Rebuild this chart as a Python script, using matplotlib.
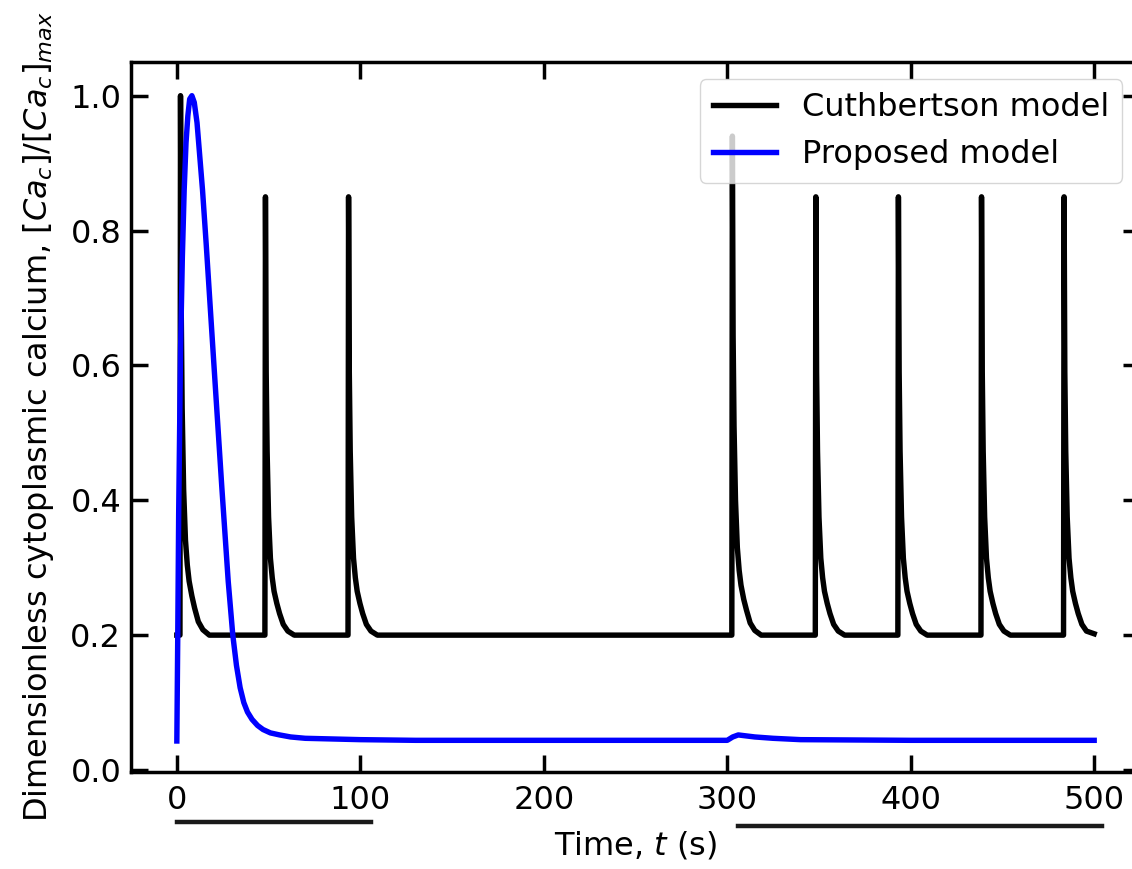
import matplotlib
matplotlib.use("Agg")
import matplotlib.pyplot as plt

# Cuthbertson model: baseline 0.2 with sharp spikes (times in s)
cuth_t = [0, 1.7, 2.0, 2.4, 2.9, 3.7, 4.7, 5.7, 6.7, 8.2, 9.7, 11.7, 14.2, 17.7,
          48.0, 48.3, 48.7, 49.2, 50.0, 51.0, 52.0, 53.0, 54.5, 56.0, 58.0, 60.5, 64.0,
          93.3, 93.6, 94.0, 94.5, 95.3, 96.3, 97.3, 98.3, 99.8, 101.3, 103.3, 105.8, 109.3,
          302.5, 302.8, 303.2, 303.7, 304.5, 305.5, 306.5, 307.5, 309.0, 310.5, 312.5, 315.0, 318.5,
          348.0, 348.3, 348.7, 349.2, 350.0, 351.0, 352.0, 353.0, 354.5, 356.0, 358.0, 360.5, 364.0,
          393.0, 393.3, 393.7, 394.2, 395.0, 396.0, 397.0, 398.0, 399.5, 401.0, 403.0, 405.5, 409.0,
          438.3, 438.6, 439.0, 439.5, 440.3, 441.3, 442.3, 443.3, 444.8, 446.3, 448.3, 450.8, 454.3,
          483.3, 483.6, 484.0, 484.5, 485.3, 486.3, 487.3, 488.3, 489.8, 491.3, 493.3, 495.8, 500]
cuth_y = [0.2, 0.2, 1.0, 0.68, 0.536, 0.416, 0.341, 0.304, 0.28, 0.258, 0.24, 0.22, 0.208, 0.2,
          0.2, 0.85, 0.59, 0.473, 0.375, 0.314, 0.285, 0.265, 0.247, 0.232, 0.216, 0.206, 0.2,
          0.2, 0.85, 0.59, 0.473, 0.375, 0.314, 0.285, 0.265, 0.247, 0.232, 0.216, 0.206, 0.2,
          0.2, 0.94, 0.644, 0.51, 0.40, 0.33, 0.296, 0.274, 0.253, 0.237, 0.218, 0.207, 0.2,
          0.2, 0.85, 0.59, 0.473, 0.375, 0.314, 0.285, 0.265, 0.247, 0.232, 0.216, 0.206, 0.2,
          0.2, 0.85, 0.59, 0.473, 0.375, 0.314, 0.285, 0.265, 0.247, 0.232, 0.216, 0.206, 0.2,
          0.2, 0.85, 0.59, 0.473, 0.375, 0.314, 0.285, 0.265, 0.247, 0.232, 0.216, 0.206, 0.2,
          0.2, 0.85, 0.59, 0.473, 0.375, 0.314, 0.285, 0.265, 0.247, 0.232, 0.216, 0.206, 0.202]

# Proposed model
prop_t = [0, 0.5, 1, 1.5, 2, 3, 4, 5, 6, 7, 8.2, 9.5, 11, 12.5, 14, 16, 20, 24.5,
          28, 30.5, 32.5, 34.5, 36.5, 38.5, 41, 44, 47, 51, 56, 62, 70, 85, 100,
          130, 200, 300, 303, 306, 309, 315, 325, 340, 400, 500]
prop_y = [0.043, 0.2, 0.38, 0.5, 0.62, 0.76, 0.86, 0.93, 0.97, 0.995, 1.0, 0.99,
          0.96, 0.91, 0.86, 0.78, 0.61, 0.42, 0.28, 0.2, 0.155, 0.122, 0.1, 0.086,
          0.075, 0.066, 0.06, 0.055, 0.052, 0.049, 0.047, 0.046, 0.045, 0.044,
          0.044, 0.044, 0.049, 0.052, 0.051, 0.049, 0.047, 0.045, 0.044, 0.044]

# underline bars drawn below the x axis (data units)
bar1_x = [0, 106]
bar1_y = [-0.077, -0.077]
bar2_x = [306, 504]
bar2_y = [-0.083, -0.083]

fs = 23
fig = plt.figure(figsize=(11.32, 8.69), dpi=100)
ax = fig.add_axes([0.1157, 0.1116, 0.8914, 0.8171])

ax.plot(cuth_t, cuth_y, color="black", lw=3.9, label="Cuthbertson model")
ax.plot(prop_t, prop_y, color="blue", lw=3.9, label="Proposed model")

ax.plot(bar1_x, bar1_y, color="#1a1a1a", lw=3.2, clip_on=False)
ax.plot(bar2_x, bar2_y, color="#1a1a1a", lw=3.2, clip_on=False)

ax.set_xlim(-25, 525)
ax.set_ylim(-0.003, 1.05)
ax.set_xticks([0, 100, 200, 300, 400, 500])
ax.set_yticks([0.0, 0.2, 0.4, 0.6, 0.8, 1.0])

ax.tick_params(direction="in", top=True, right=True, length=12, width=2.5,
               labelsize=fs)
ax.tick_params(axis="x", pad=9)
ax.tick_params(axis="y", pad=7)
for s in ax.spines.values():
    s.set_linewidth(2.5)

ax.set_xlabel("Time, $t$ (s)", fontsize=fs, labelpad=10)
ax.set_ylabel("Dimensionless cytoplasmic calcium, $[Ca_c]/[Ca_c]_{max}$",
              fontsize=fs, labelpad=10)
ax.legend(fontsize=fs, loc="upper right", handlelength=2.0,
          bbox_to_anchor=(0.998, 0.998))

fig.savefig("out.png", dpi=100)
